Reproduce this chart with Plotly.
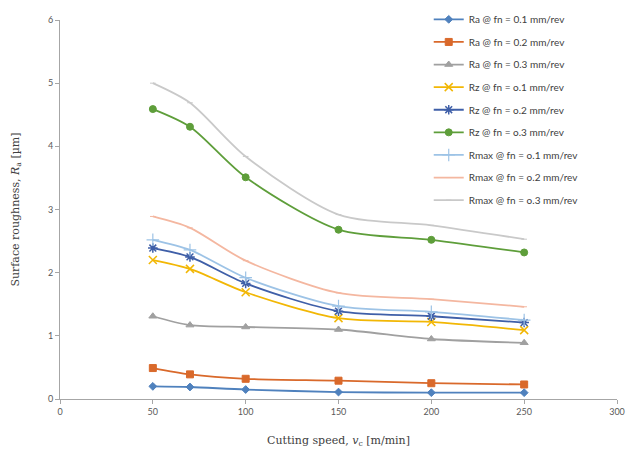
import plotly.graph_objects as go

speeds = [50, 70, 100, 150, 200, 250]

ra_01 = [0.20, 0.19, 0.15, 0.11, 0.10, 0.10]
ra_02 = [0.49, 0.39, 0.32, 0.29, 0.25, 0.23]
ra_03 = [1.31, 1.17, 1.14, 1.10, 0.95, 0.89]
rz_01 = [2.20, 2.06, 1.69, 1.28, 1.22, 1.09]
rz_02 = [2.39, 2.25, 1.83, 1.39, 1.31, 1.21]
rz_03 = [4.59, 4.31, 3.51, 2.68, 2.52, 2.32]
rmax_01 = [2.52, 2.36, 1.92, 1.47, 1.38, 1.25]
rmax_02 = [2.89, 2.71, 2.19, 1.68, 1.58, 1.46]
rmax_03 = [5.00, 4.69, 3.84, 2.92, 2.75, 2.53]

series = [
    ("Ra @ fn = 0.1 mm/rev", ra_01, "#4F81BD", "diamond", 6, 1),
    ("Ra @ fn = 0.2 mm/rev", ra_02, "#D9692B", "square", 7, 1),
    ("Ra @ fn = 0.3 mm/rev", ra_03, "#A0A0A0", "triangle-up", 7, 1),
    ("Rz @ fn = o.1 mm/rev", rz_01, "#F2B705", "x-thin-open", 8, 1.5),
    ("Rz @ fn = o.2 mm/rev", rz_02, "#3F5FA8", "asterisk-open", 8, 1.5),
    ("Rz @ fn = o.3 mm/rev", rz_03, "#5E9E3A", "circle", 7, 1),
    ("Rmax @ fn = o.1 mm/rev", rmax_01, "#9DC3E6", "cross-thin-open", 9, 1.2),
    ("Rmax @ fn = o.2 mm/rev", rmax_02, "#F4B7A0", "line-ew-open", 4, 1),
    ("Rmax @ fn = o.3 mm/rev", rmax_03, "#C9C9C9", "line-ew-open", 4, 1),
]

fig = go.Figure()
for i, (name, vals, color, sym, size, lw) in enumerate(series):
    fig.add_trace(go.Scatter(
        x=speeds, y=vals, name=name, mode="lines+markers",
        line=dict(color=color, width=1.8, shape="spline", smoothing=0.8),
        marker=dict(symbol=sym, size=size, color=color, line=dict(color=color, width=lw)),
        legendgroup=f"g{i}",
    ))

fig.update_layout(
    width=630, height=455,
    margin=dict(l=60, r=5, t=14, b=56),
    paper_bgcolor="white", plot_bgcolor="white",
    font=dict(family="Lato, Liberation Sans, sans-serif", color="#595959", size=9),
    showlegend=True,
    legend=dict(x=0.662, y=1.04, xanchor="left", yanchor="top",
                font=dict(size=10, color="#404040", family="Lato, sans-serif"),
                tracegroupgap=3.6, bgcolor="rgba(0,0,0,0)", itemwidth=30,
                maxheight=1.0),
    xaxis=dict(range=[0, 300], tickvals=[0, 50, 100, 150, 200, 250, 300],
               showgrid=False, zeroline=False, showline=True, linecolor="#A6A6A6",
               ticks="outside", ticklen=4, tickcolor="#A6A6A6",
               ticklabeloverflow="allow",
               tickfont=dict(size=9, color="#595959"),
               title=dict(text="Cutting speed, <i>v</i><sub>c</sub> [m/min]",
                          font=dict(family="DejaVu Serif, serif", size=11, color="#404040"),
                          standoff=20)),
    yaxis=dict(range=[0, 6], tickvals=[0, 1, 2, 3, 4, 5, 6],
               showgrid=False, zeroline=False, showline=True, linecolor="#A6A6A6",
               ticks="outside", ticklen=4, tickcolor="#A6A6A6",
               tickfont=dict(size=9, color="#595959"),
               title=dict(text="Surface roughness, <i>R</i><sub>a</sub> [µm]",
                          font=dict(family="DejaVu Serif, serif", size=11, color="#404040"),
                          standoff=26)),
)

fig.write_html("out.html")
